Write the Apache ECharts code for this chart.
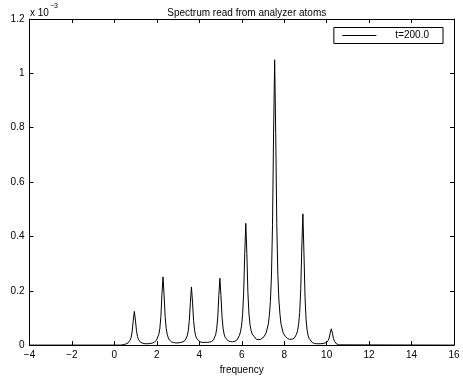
<!DOCTYPE html>
<html>
<head>
<meta charset="utf-8">
<script src="https://cdn.jsdelivr.net/npm/echarts@6/dist/echarts.min.js"></script>
<style>html,body{margin:0;padding:0;background:#fff}#c{width:463px;height:380px}</style>
</head>
<body>
<div id="c"></div>
<script>
// values in units of 1e-3
const freq = [-4, 0.30, 0.44, 0.54, 0.64, 0.69, 0.74, 0.79, 0.84, 0.89, 0.94, 0.99, 1.04, 1.09, 1.14, 1.19, 1.24, 1.34, 1.44, 1.54, 1.64,
  1.69, 1.79, 1.89, 1.99, 2.04, 2.09, 2.14, 2.19, 2.24, 2.29, 2.34, 2.39, 2.44, 2.49, 2.54, 2.59, 2.69, 2.79, 2.89, 2.99,
  3.03, 3.13, 3.23, 3.33, 3.38, 3.43, 3.48, 3.53, 3.58, 3.63, 3.68, 3.73, 3.78, 3.83, 3.88, 3.93, 4.03, 4.13, 4.23, 4.33,
  4.37, 4.47, 4.57, 4.67, 4.72, 4.77, 4.82, 4.87, 4.92, 4.97, 5.02, 5.07, 5.12, 5.17, 5.22, 5.27, 5.37, 5.47, 5.57,
  5.59, 5.69, 5.79, 5.89, 5.94, 5.99, 6.04, 6.09, 6.14, 6.19, 6.24, 6.29, 6.34, 6.39, 6.44, 6.49, 6.59, 6.69, 6.79, 6.89,
  6.95, 7.05, 7.15, 7.25, 7.30, 7.35, 7.40, 7.45, 7.50, 7.55, 7.60, 7.65, 7.70, 7.75, 7.80, 7.85, 7.95, 8.05, 8.15, 8.25,
  8.28, 8.38, 8.48, 8.58, 8.63, 8.68, 8.73, 8.78, 8.83, 8.88, 8.93, 8.98, 9.03, 9.08, 9.13, 9.18, 9.23, 9.33, 9.43, 9.53, 9.63, 9.73, 9.83,
  9.92, 9.97, 10.02, 10.07, 10.12, 10.17, 10.22, 10.27, 10.32, 10.37, 10.42, 10.47, 10.57, 10.65, 16];
const spectrum = [0, 0, 0.002, 0.004, 0.008, 0.011, 0.018, 0.029, 0.052, 0.092, 0.124, 0.092, 0.053, 0.031, 0.020, 0.014, 0.010, 0.007, 0.005, 0.005, 0.0054,
  0.006, 0.0075, 0.011, 0.019, 0.026, 0.039, 0.060, 0.105, 0.186, 0.251, 0.186, 0.106, 0.061, 0.039, 0.027, 0.019, 0.012, 0.0095, 0.008, 0.008,
  0.009, 0.010, 0.012, 0.017, 0.023, 0.034, 0.052, 0.091, 0.158, 0.214, 0.158, 0.091, 0.053, 0.034, 0.024, 0.017, 0.012, 0.010, 0.010, 0.010,
  0.010, 0.011, 0.013, 0.019, 0.026, 0.038, 0.060, 0.103, 0.182, 0.246, 0.182, 0.106, 0.062, 0.040, 0.028, 0.021, 0.015, 0.013, 0.012,
  0.012, 0.015, 0.020, 0.036, 0.049, 0.071, 0.112, 0.192, 0.336, 0.448, 0.337, 0.194, 0.115, 0.075, 0.054, 0.041, 0.031, 0.021, 0.020, 0.021,
  0.024, 0.031, 0.045, 0.077, 0.108, 0.160, 0.254, 0.444, 0.780, 1.050, 0.780, 0.447, 0.260, 0.166, 0.114, 0.077, 0.046, 0.032, 0.025, 0.021,
  0.021, 0.022, 0.026, 0.040, 0.053, 0.077, 0.120, 0.207, 0.361, 0.483, 0.340, 0.180, 0.095, 0.055, 0.034, 0.024, 0.017, 0.009, 0.006, 0.005, 0.005, 0.005, 0.006,
  0.008, 0.009, 0.011, 0.016, 0.027, 0.045, 0.060, 0.044, 0.025, 0.014, 0.008, 0.004, 0.001, 0, 0];
const xTicks = [-4, -2, 0, 2, 4, 6, 8, 10, 12, 14, 16];
const yTicks = [0, 0.2, 0.4, 0.6, 0.8, 1, 1.2];
const seriesName = 't=200.0';
const titleText = 'Spectrum read from analyzer atoms';
const xName = 'frequency';

const font = 'Liberation Sans, Arial, Helvetica, sans-serif';
const chart = echarts.init(document.getElementById('c'), null, {renderer: 'canvas'});
const tickStyle = {show: true, inside: true, length: 4, lineStyle: {color: '#000', width: 1}};
const axLine = {show: true, onZero: false, lineStyle: {color: '#000', width: 1}};
const data = freq.map((f, i) => [f, spectrum[i]]);
chart.setOption({
  backgroundColor: '#fff',
  animation: false,
  title: {text: titleText, left: 241.75, textAlign: 'center', top: 3,
    textStyle: {fontSize: 10, fontWeight: 'normal', color: '#000', fontFamily: font}},
  grid: {left: 29.5, right: 9, top: 19, bottom: 26, containLabel: false},
  legend: {
    right: 20, top: 27.5, orient: 'vertical',
    data: [seriesName],
    backgroundColor: '#fff', borderColor: '#000', borderWidth: 1, borderRadius: 0,
    padding: [2, 14, 2, 8],
    itemWidth: 34, itemHeight: 15,
    lineStyle: {width: 1, color: '#000'},
    itemStyle: {color: 'rgba(0,0,0,0)', borderWidth: 0, opacity: 0},
    textStyle: {fontSize: 10, color: '#000', fontFamily: font, padding: [0, 0, 0, 14]}
  },
  xAxis: [
    {type: 'value', min: xTicks[0], max: xTicks[xTicks.length - 1], interval: xTicks[1] - xTicks[0],
      name: xName, nameLocation: 'middle', nameGap: 15,
      nameTextStyle: {fontSize: 10, color: '#000', fontFamily: font},
      axisLine: axLine, axisTick: tickStyle, splitLine: {show: false},
      axisLabel: {fontSize: 10, color: '#000', fontFamily: font, margin: 5,
        formatter: v => (v < 0 ? '\u2212' + Math.abs(v) : String(v))}},
    {type: 'value', position: 'top', min: xTicks[0], max: xTicks[xTicks.length - 1], interval: xTicks[1] - xTicks[0],
      axisLine: axLine, axisTick: tickStyle, splitLine: {show: false}, axisLabel: {show: false}}
  ],
  yAxis: [
    {type: 'value', min: yTicks[0], max: yTicks[yTicks.length - 1], interval: 0.2,
      axisLine: axLine, axisTick: tickStyle, splitLine: {show: false},
      axisLabel: {fontSize: 10, color: '#000', fontFamily: font, margin: 5,
        formatter: v => String(Math.round(v * 10) / 10)}},
    {type: 'value', position: 'right', min: yTicks[0], max: yTicks[yTicks.length - 1], interval: 0.2,
      axisLine: axLine, axisTick: tickStyle, splitLine: {show: false}, axisLabel: {show: false}}
  ],
  graphic: [
    {type: 'text', left: 30, top: 8, style: {text: 'x 10', fontSize: 10, fill: '#000', fontFamily: font}},
    {type: 'text', left: 50, top: 3, style: {text: '\u22123', fontSize: 7, fill: '#000', fontFamily: font}}
  ],
  series: [{
    name: seriesName, type: 'line', data: data, symbol: 'none', showSymbol: false,
    lineStyle: {color: '#000', width: 1}, itemStyle: {color: '#000'}, clip: true
  }]
});
</script>
</body>
</html>
